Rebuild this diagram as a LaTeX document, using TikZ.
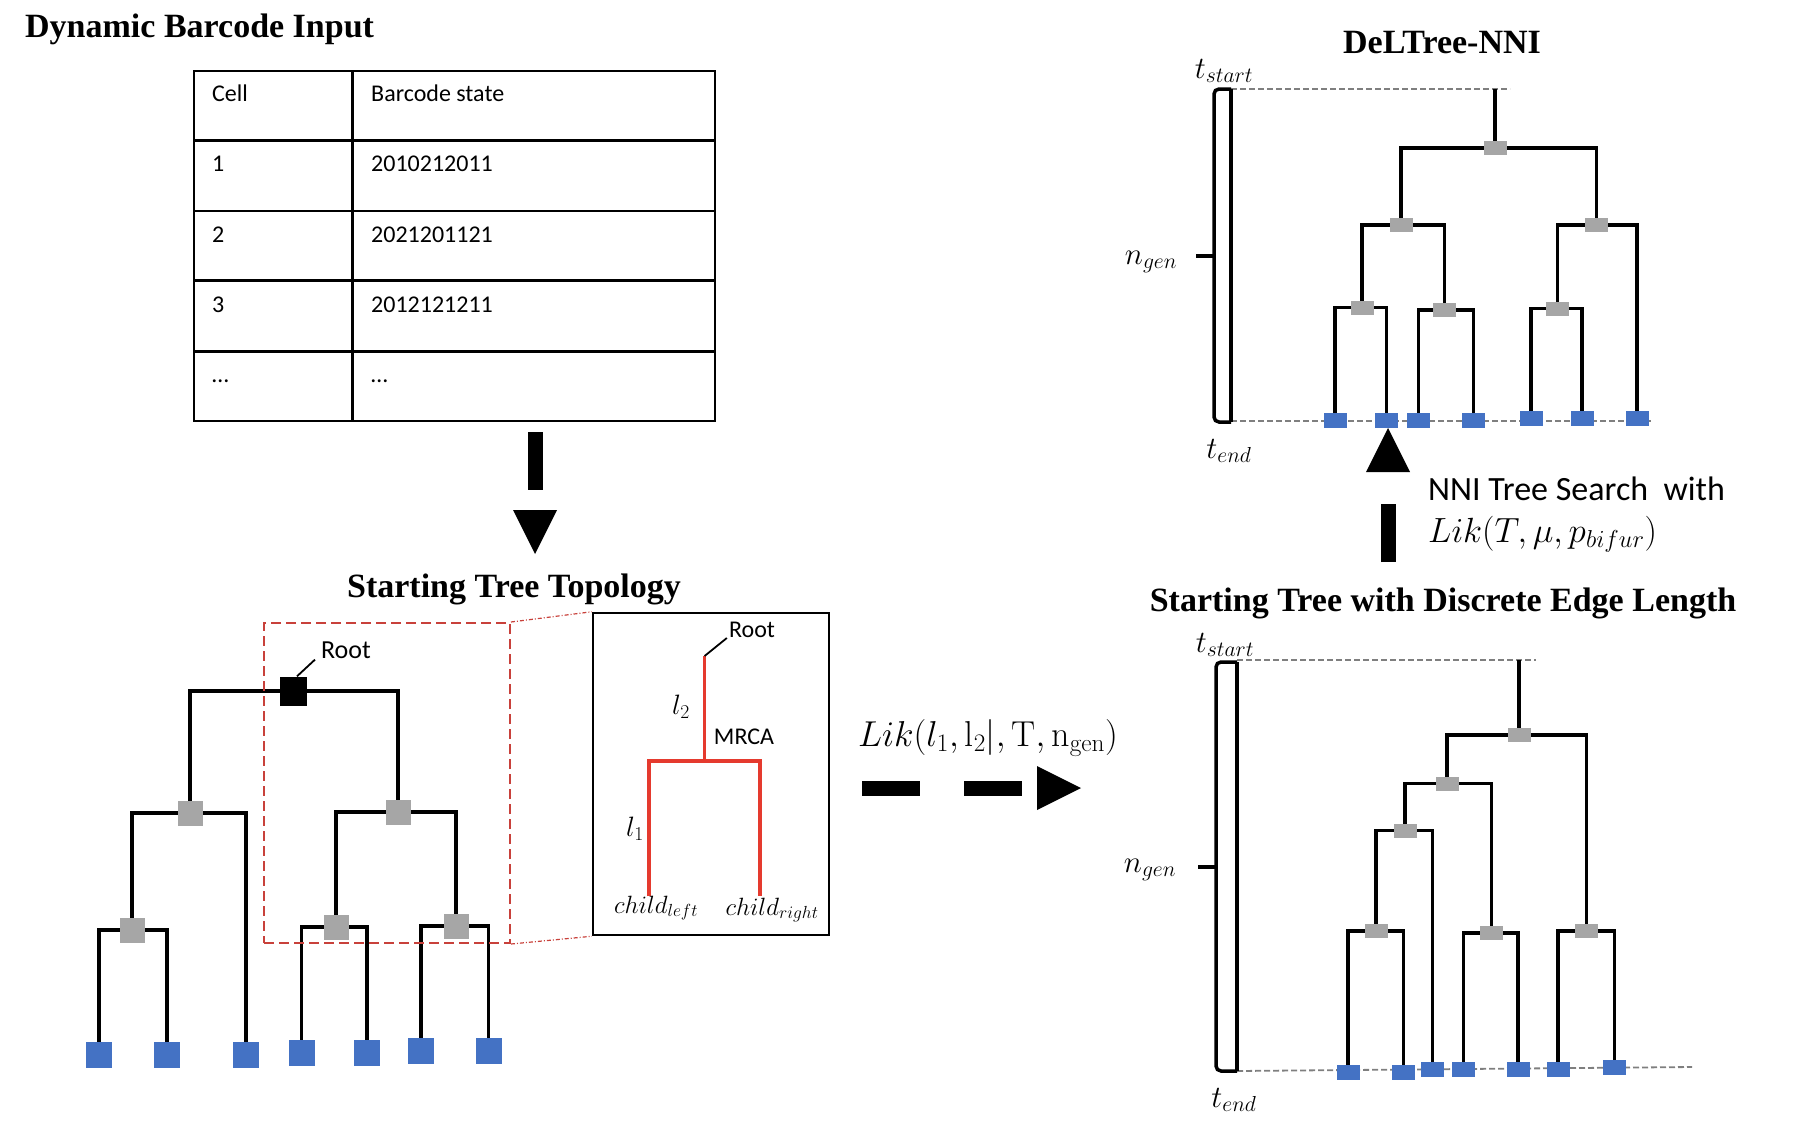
\RequirePackage{fix-cm}
\documentclass[tikz,border=0pt]{standalone}
\usepackage{fontspec}
\newfontfamily\calibri{Carlito}
\newfontfamily\tnr{Liberation Serif}
\usetikzlibrary{arrows.meta}
\definecolor{leafblue}{HTML}{4472C4}
\definecolor{nodegray}{HTML}{A6A6A6}
\definecolor{linered}{HTML}{E53A2E}
\definecolor{boxred}{HTML}{C8413B}
\definecolor{dashgray}{HTML}{7F7F7F}
\tikzset{%
  tedge/.style={line width=3.5pt},
  redge/.style={line width=3.5pt, draw=linered},
  tline/.style={line width=2.8pt},
  leader/.style={line width=1.8pt},
  gdash/.style={line width=1.8pt, draw=dashgray, dash pattern=on 6pt off 3pt},
  brk/.style={line width=3.5pt},
  bigarrow/.style={line width=15pt, dash pattern=on 58pt off 44pt,
    -{Triangle[length=44pt,width=44pt,line width=0pt]}},
  rootbox/.style={fill=black, minimum width=27pt, minimum height=29pt, inner sep=0pt},
  gbox/.style={fill=nodegray, minimum size=25pt, inner sep=0pt},
  lbox/.style={fill=leafblue, minimum size=26pt, inner sep=0pt},
  sgbox/.style={fill=nodegray, minimum width=23pt, minimum height=14pt, inner sep=0pt},
  slbox/.style={fill=leafblue, minimum width=23pt, minimum height=15pt, inner sep=0pt},
  title/.style={font=\tnr\bfseries\fontsize{34}{40}\selectfont, inner sep=0pt},
  celltxt/.style={anchor=base west, font=\calibri\fontsize{24}{28}\selectfont, inner sep=0pt},
  ctxt/.style={font=\calibri\fontsize{#1}{#1}\selectfont, inner sep=0pt},
  mtxt/.style={font=\fontsize{#1}{#1}\selectfont, inner sep=0pt},
  zoombox/.style={draw=boxred, line width=2pt, dash pattern=on 10pt off 5pt,
    minimum width=246pt, minimum height=320pt, inner sep=0pt},
  zoomline/.style={draw=boxred, line width=1.2pt, dash pattern=on 4pt off 2pt on 1pt off 2pt},
  insetbox/.style={draw, line width=2.5pt, minimum width=236pt, minimum height=322pt, inner sep=0pt}
}
\pgfdeclarelayer{bg}
\pgfsetlayers{bg,main}

\begin{document}
\begin{tikzpicture}[x=1pt, y=-1pt]
\useasboundingbox (0,0) rectangle (1818,1128);

% titles
\node[title, anchor=base west] (ttinput) at (25,37) {Dynamic Barcode Input};
\node[title, anchor=base] (tttopo) at (514,597) {Starting Tree Topology};
\node[title, anchor=base] (ttnni) at (1442,53) {DeLTree-NNI};
\node[title, anchor=base] (ttdisc) at (1443,611) {Starting Tree with Discrete Edge Length};

% barcode table
\draw[tline] (194,71) rectangle (715,421);
\draw[tline] (352.5,71) -- (352.5,421);
\foreach \y in {140.3,211,280.6,351.3} {
  \draw[tline] (194,\y) -- (715,\y);
}
\foreach \c/\b [count=\i from 0] in {Cell/Barcode state, 1/2010212011, 2/2021201121, 3/2012121211, …/…} {
  \node[celltxt] (cell\i) at (212,101.7+70.2*\i) {\c};
  \node[celltxt] (code\i) at (371,101.7+70.2*\i) {\b};
}

\coordinate (d1) at (535,432);
\coordinate (d2) at (535,554);
\draw[bigarrow] (d1) -- (d2);

% starting tree topology
\node[rootbox] (r) at (293,691) {};
\node[gbox] (la) at (190,813) {};
\node[gbox] (lb) at (398,812) {};
\node[gbox] (laa) at (132,930) {};
\node[gbox] (lba) at (336,927) {};
\node[gbox] (lbb) at (456,926) {};
\foreach \n/\x/\y in {1/99/1055, 2/167/1055, 3/246/1055, 4/301.5/1053, 5/367/1053, 6/421/1050.5, 7/488.6/1050.5} {
  \node[lbox] (ll\n) at (\x,\y) {};
}
\begin{pgfonlayer}{bg}
\foreach \p/\c in {r/la, r/lb, la/laa, la/ll3, laa/ll1, laa/ll2, lb/lba, lb/lbb, lba/ll4, lba/ll5, lbb/ll6, lbb/ll7} {
  \draw[tedge] (\p.center) -| (\c.center);
}
\end{pgfonlayer}
\node[ctxt=26] (rootlab) at (346,650) {Root};
\draw[leader] ([xshift=4pt]r.north) -- ([xshift=-6pt,yshift=-1pt]rootlab.south west);

% zoomed subtree
\node[zoombox] (zb) at (387,783) {};
\node[insetbox] (inset) at (711,774) {};
\draw[zoomline] (zb.north east) -- (inset.north west);
\draw[zoomline] (zb.south east) -- (inset.south west);
\coordinate (iroot) at (704.6,656);
\coordinate (mrca) at (704.6,761);
\coordinate (cl) at (649,896);
\coordinate (cr) at (760,896);
\draw[redge] (iroot) -- (mrca);
\draw[redge] (cl) |- (mrca) -| (cr);
\node[ctxt=24] (irootlab) at (752,630) {Root};
\draw[leader] (iroot) -- ([xshift=-2pt]irootlab.south west);
\node[mtxt=28] (l2lab) at (681,707) {$l_2$};
\node[ctxt=24] (mrcalab) at (744,737) {MRCA};
\node[mtxt=28] (l1lab) at (635,829) {$l_1$};
\node[mtxt=25] (cllab) at (656,908) {$child_{left}$};
\node[mtxt=25] (crlab) at (772,910) {$child_{right}$};

% likelihood arrow
\node[mtxt=36] (lik) at (988,738) {$Lik(l_1, \mathrm{l}_2|, \mathrm{T}, \mathrm{n}_{\mathrm{gen}})$};
\coordinate (h1) at (862,788);
\coordinate (h2) at (1081,788);
\draw[bigarrow] (h1) -- (h2);

% time axes
\begin{pgfonlayer}{bg}
\draw[gdash] (1231,89) -- (1510,89);
\draw[gdash] (1231,421) -- (1652,421);
\draw[gdash] (1237,660) -- (1536,660);
\draw[gdash] (1237,1071) -- (1692,1067);
\end{pgfonlayer}
\foreach \yt/\yb/\ym/\xl/\xr in {89/422/256/1214/1231, 662/1071/867/1216/1237} {
  \draw[brk, rounded corners=5pt] (\xr,\yt) -- (\xl,\yt) -- (\xl,\yb) -- (\xr,\yb);
  \draw[brk] (\xr,\yt) -- (\xr,\yb);
  \draw[brk] (\xl-18,\ym) -- (\xl,\ym);
}
\node[mtxt=31] (tstart1) at (1224,71) {$t_{start}$};
\node[mtxt=31] (ngen1) at (1151,262) {$n_{gen}$};
\node[mtxt=31] (tend1) at (1229,451) {$t_{end}$};
\node[mtxt=31] (tstart2) at (1225,645) {$t_{start}$};
\node[mtxt=31] (ngen2) at (1150,870) {$n_{gen}$};
\node[mtxt=31] (tend2) at (1234,1100) {$t_{end}$};

% DeLTree-NNI tree
\coordinate (ts) at (1495,89);
\node[sgbox] (t0) at (1495,148) {};
\node[sgbox] (t1) at (1401,225) {};
\node[sgbox] (t2) at (1596.5,225) {};
\node[sgbox] (t11) at (1362,307.5) {};
\node[sgbox] (t12) at (1444.5,310) {};
\node[sgbox] (t21) at (1557.7,308.5) {};
\foreach \n/\x/\y in {1/1335/420, 2/1386.5/420.5, 3/1418.6/420.5, 4/1473.6/420.5, 5/1531/418.5, 6/1582/418.5, 7/1637/418} {
  \node[slbox] (tl\n) at (\x,\y) {};
}
\begin{pgfonlayer}{bg}
\foreach \p/\c in {ts/t0, t0/t1, t0/t2, t1/t11, t1/t12, t11/tl1, t11/tl2, t12/tl3, t12/tl4, t2/t21, t2/tl7, t21/tl5, t21/tl6} {
  \draw[tedge] (\p.center) -| (\c.center);
}
\end{pgfonlayer}

% search arrow
\coordinate (u1) at (1388,562);
\coordinate (u2) at (1388,428);
\draw[bigarrow] (u1) -- (u2);
\node[ctxt=34, anchor=west] (nni) at (1428,489) {NNI Tree Search\ \ with};
\node[mtxt=35, anchor=west] (likt) at (1428,534) {$Lik(T,\mu,p_{bifur})$};

% starting tree with discrete edge length
\coordinate (ss) at (1519,660);
\node[sgbox] (s0) at (1519,735) {};
\node[sgbox] (s1) at (1447,783.5) {};
\node[sgbox] (s2) at (1586.5,931) {};
\node[sgbox] (s11) at (1405,830.5) {};
\node[sgbox] (s12) at (1491.5,933) {};
\node[sgbox] (s111) at (1376,931) {};
\foreach \n/\x/\y in {1/1348/1072, 2/1403.6/1072.5, 3/1432.7/1069, 4/1463.5/1069, 5/1518/1069, 6/1558/1069.5, 7/1614.5/1067} {
  \node[slbox] (sl\n) at (\x,\y) {};
}
\begin{pgfonlayer}{bg}
\foreach \p/\c in {ss/s0, s0/s1, s0/s2, s1/s11, s1/s12, s11/s111, s11/sl3, s111/sl1, s111/sl2, s12/sl4, s12/sl5, s2/sl6, s2/sl7} {
  \draw[tedge] (\p.center) -| (\c.center);
}
\end{pgfonlayer}

\end{tikzpicture}
\end{document}
